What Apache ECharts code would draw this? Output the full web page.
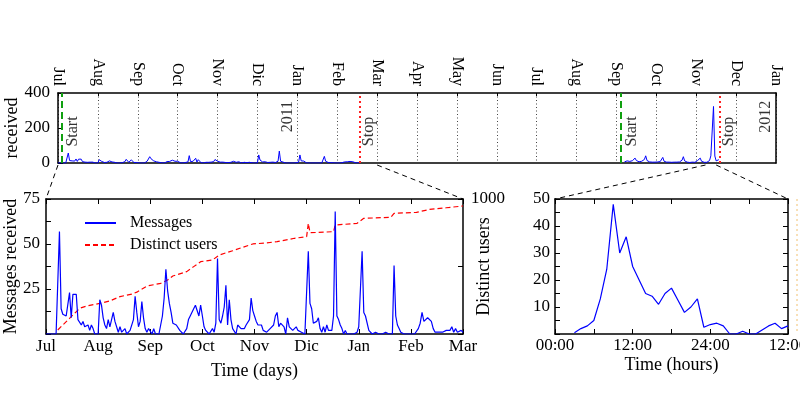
<!DOCTYPE html>
<html><head><meta charset="utf-8">
<script src="https://cdn.jsdelivr.net/npm/echarts@6/dist/echarts.min.js"></script>
<style>html,body{margin:0;padding:0;background:#fff}#c{width:800px;height:395px}</style>
</head><body><div id="c"></div>
<script>
// ---------------- DATA ----------------
const topMonthLabels = ['Jul','Aug','Sep','Oct','Nov','Dic','Jan','Feb','Mar','Apr','May','Jun','Jul','Aug','Sep','Oct','Nov','Dec','Jan'];
const dayMonthLabels = ['Jul','Aug','Sep','Oct','Nov','Dic','Jan','Feb','Mar'];
const hourTickLabels = {0:'00:00', 12:'12:00', 24:'24:00', 36:'12:00'};
const topYTicks = [0, 200, 400];

// messages per day, first campaign (starting 2010-07-01)
const msgJul2010 = [0,0,0,0,0,0,0,1,57,14,11,12,10,11,23,9,22,23,22,8,7,5,7,4,3,5,2,5,3,0,0];
const msgAug2010 = [0,19,16,9,5,3,8,4,5,12,7,6,1,4,1,0,3,0,0,2,3,8,21,12,4,7,18,9,3,1,3];
const msgSep2010 = [2,0,3,0,1,0,5,10,20,36,24,17,12,6,7,5,4,2,1,0,0,3,8,10,9,14,16,17,10,16];
const msgOct2010 = [10,4,2,1,0,0,3,1,6,42,8,6,10,15,27,5,19,8,3,4,0,5,4,3,4,3,5,4,8,20,13];
const msgNov2010 = [10,7,5,4,5,2,3,1,2,3,4,5,10,12,4,6,7,4,0,9,4,3,2,3,4,2,1,1,0,0];
const msgDec2010 = [1,46,17,14,6,5,7,9,3,1,4,1,5,2,3,2,10,68,10,8,5,3,0,2,0,1,0,0,0,1,1];
const msgJan2011 = [4,5,46,12,10,11,2,1,0,0,1,0,0,0,0,0,1,0,0,0,0,38,10,5,3,1,2,0,1,0,0];
const msgFeb2011 = [0,0,0,1,3,6,12,7,7,9,10,7,3,1,2,1,2,1,0,2,1,2,4,1,3,1,2,2];
const msgMar2011 = [1];

// messages per day, second campaign (starting 2011-09-07)
const msgSep2011 = [6,10,12,11,9,10,13,18,28,14,9,7,8,10,12,20,41,14,8,6,7,5,6,5];
const msgOct2011 = [5,6,5,8,14,32,10,6,5,4,5,6,4,3,5,4,5,4,6,8,16,36,12,7,5,4,3,4,5,3,4];
const msgNov2011 = [8,14,20,28,10,6,4,5,4,6,14,41,30,323,40,12,8,19];

// cumulative distinct users
const usersDates  = ['2010-07-08','2010-07-15','2010-07-21','2010-07-25','2010-08-02','2010-08-08','2010-08-14','2010-08-21','2010-08-24','2010-08-30','2010-09-07','2010-09-11','2010-09-14','2010-09-22','2010-09-26','2010-09-30','2010-10-07','2010-10-11','2010-10-19','2010-10-31','2010-11-08','2010-11-14','2010-11-24','2010-12-01','2010-12-02','2010-12-03','2010-12-17','2010-12-18','2010-12-31','2011-01-04','2011-01-20','2011-01-22','2011-02-04','2011-02-11','2011-02-20','2011-03-01'];
const usersValues = [30,116,190,207,227,245,277,296,310,355,375,400,430,462,499,536,548,585,617,667,675,684,709,721,820,750,758,807,820,857,864,894,901,923,935,948];

// messages per hour, peak day (hours 3..36 from 00:00)
const hourlyFirstHour = 3;
const hourlyMessages = [0.5,2,3,5,13,24,48,30,36,25,20,15,14,11,15,17,12.5,8,10,13,2.5,3.5,4,3,0,0,1,0,0,1.5,3,4,2,3];

const events = [
  {date:'2010-07-04', type:'Start'},
  {date:'2011-02-17', type:'Stop'},
  {date:'2011-09-04', type:'Start'},
  {date:'2011-11-19', type:'Stop'}
];
const yearMarks = [{date:'2011-01-01', label:'2011'}, {date:'2012-01-01', label:'2012'}];
const hourWindowOnTop = ['2011-11-08', '2011-11-16'];

// ---------------- HELPERS ----------------
function parseD(s){ const p = s.split('-').map(Number); return new Date(Date.UTC(p[0], p[1]-1, p[2])); }
function monthPos(dt){
  const y = dt.getUTCFullYear(), m = dt.getUTCMonth(), d = dt.getUTCDate();
  const dim = new Date(Date.UTC(y, m+1, 0)).getUTCDate();
  return (y-2010)*12 + (m-6) + (d-1)/dim;
}
function daily(startStr, values){
  const s = parseD(startStr);
  return values.map((v,i) => [monthPos(new Date(s.getTime() + i*86400000)), v]);
}
const period1 = daily('2010-07-01', [].concat(msgJul2010,msgAug2010,msgSep2010,msgOct2010,msgNov2010,msgDec2010,msgJan2011,msgFeb2011,msgMar2011));
const period2 = daily('2011-09-07', [].concat(msgSep2011,msgOct2011,msgNov2011));
const stop1 = monthPos(parseD(events[1].date));
const period1Top = period1.filter(p => p[0] <= stop1);
const users = usersDates.map((d,i) => [monthPos(parseD(d)), usersValues[i]]);
const hourly = hourlyMessages.map((v,i) => [hourlyFirstHour + i, v]);

// ---------------- LAYOUT / STYLE ----------------
const FONT = 'Liberation Serif';
const G_TOP = {left:58, top:93, width:718, height:70};
const G_DAYS = {left:46, top:199, width:417, height:135};
const G_HOURS = {left:555, top:199, width:233, height:135};
const AX = {lineStyle:{color:'#000', width:1.5}};
const lbl = (extra) => Object.assign({color:'#000', fontFamily:FONT, fontSize:17}, extra||{});
const nameStyle = {color:'#000', fontFamily:FONT, fontSize:18};
const inTick = (len) => ({show:true, inside:true, length:len, lineStyle:{color:'#000', width:1}});
const plain = (gridIndex, position, min, max, interval, tick) => ({
  gridIndex, position, type:'value', min, max, interval,
  axisLine:Object.assign({onZero:false, show:true}, AX),
  axisTick: tick ? inTick(tick) : {show:false},
  axisLabel:{show:false}, splitLine:{show:false}
});

const chart = echarts.init(document.getElementById('c'), null, {renderer:'canvas'});

const eventStyle = {
  Start: {color:'#10a010', width:2, type:[7,4]},
  Stop:  {color:'#ff2020', width:2, type:[2,3]}
};
const eventLabelShift = {Start:11, Stop:9};   // px to the right of the line

const option = {
  animation:false,
  backgroundColor:'#fff',
  textStyle:{fontFamily:FONT},
  grid:[
    Object.assign({outerBoundsMode:'none', containLabel:false}, G_TOP),
    Object.assign({outerBoundsMode:'none', containLabel:false}, G_DAYS),
    Object.assign({outerBoundsMode:'none', containLabel:false}, G_HOURS)
  ],
  legend:{
    data:['Messages','Distinct users'], orient:'vertical', left:84, top:215, padding:0,
    itemWidth:31, itemHeight:14, itemGap:6, selectedMode:false,
    itemStyle:{color:'rgba(0,0,0,0)', borderWidth:0, opacity:0},
    textStyle:{color:'#000', fontFamily:FONT, fontSize:16, padding:[0,0,0,9]}
  },
  xAxis:[
    { gridIndex:0, position:'top', type:'value', min:0, max:topMonthLabels.length-1, interval:1,
      axisLine:Object.assign({onZero:false}, AX), axisTick:inTick(3),
      axisLabel:lbl({fontSize:16, rotate:90, margin:7, showMinLabel:true, showMaxLabel:true,
        formatter:v => topMonthLabels[Math.round(v)] || ''}),
      splitLine:{show:true, lineStyle:{color:'#444', width:1, type:[1,2.5]}} },
    plain(0, 'bottom', 0, topMonthLabels.length-1, 1, 0),
    { gridIndex:1, position:'bottom', type:'value', min:0, max:dayMonthLabels.length-1, interval:1,
      axisLine:Object.assign({onZero:false}, AX), axisTick:inTick(5),
      axisLabel:lbl({margin:4, showMinLabel:true, showMaxLabel:true, formatter:v => dayMonthLabels[Math.round(v)] || ''}),
      splitLine:{show:false},
      name:'Time (days)', nameLocation:'middle', nameGap:28, nameMoveOverlap:false, nameTextStyle:nameStyle },
    plain(1, 'top', 0, dayMonthLabels.length-1, 1, 5),
    { gridIndex:2, position:'bottom', type:'value', min:0, max:36, interval:6,
      axisLine:Object.assign({onZero:false}, AX), axisTick:inTick(5),
      axisLabel:lbl({margin:3, showMinLabel:true, showMaxLabel:true, formatter:v => hourTickLabels[v] || ''}),
      splitLine:{show:false},
      name:'Time (hours)', nameLocation:'middle', nameGap:22, nameMoveOverlap:false, nameTextStyle:nameStyle },
    plain(2, 'top', 0, 36, 6, 5)
  ],
  yAxis:[
    { gridIndex:0, position:'left', type:'value', min:topYTicks[0], max:topYTicks[2], interval:topYTicks[1]-topYTicks[0],
      axisLine:Object.assign({onZero:false}, AX), axisTick:inTick(5),
      axisLabel:lbl({margin:8}), splitLine:{show:false},
      name:'Messages\nreceived', nameLocation:'middle', nameGap:34, nameMoveOverlap:false,
      nameTextStyle:Object.assign({lineHeight:23}, nameStyle) },
    plain(0, 'right', 0, 400, 200, 0),
    { gridIndex:1, position:'left', type:'value', min:0, max:75, interval:12.5,
      axisLine:Object.assign({onZero:false}, AX), axisTick:inTick(5),
      axisLabel:lbl({margin:6, formatter:v => (v > 0 && v % 25 === 0) ? String(v) : ''}),
      splitLine:{show:false},
      name:'Messages received', nameLocation:'middle', nameGap:26, nameMoveOverlap:false, nameTextStyle:nameStyle },
    { gridIndex:1, position:'right', type:'value', min:0, max:1000, interval:500,
      axisLine:Object.assign({onZero:false}, AX), axisTick:inTick(5),
      axisLabel:lbl({margin:8, formatter:v => v === 1000 ? '1000' : ''}),
      splitLine:{show:false},
      name:'Distinct users', nameLocation:'middle', nameGap:12, nameMoveOverlap:false, nameTextStyle:nameStyle },
    { gridIndex:2, position:'left', type:'value', min:0, max:50, interval:5,
      axisLine:Object.assign({onZero:false}, AX), axisTick:inTick(5),
      axisLabel:lbl({margin:5, formatter:v => (v > 0 && v % 10 === 0) ? String(v) : ''}),
      splitLine:{show:false} },
    plain(2, 'right', 0, 50, 5, 5)
  ],
  series:[
    { name:'top1', type:'line', xAxisIndex:0, yAxisIndex:0, data:period1Top, showSymbol:false, symbol:'none',
      lineStyle:{color:'#0000ff', width:1}, z:3,
      markLine:{ silent:true, symbol:'none', label:{show:false},
        data: events.map(e => ({xAxis: monthPos(parseD(e.date)), lineStyle: eventStyle[e.type]})) } },
    { name:'top2', type:'line', xAxisIndex:0, yAxisIndex:0, data:period2, showSymbol:false, symbol:'none',
      lineStyle:{color:'#0000ff', width:1}, z:3 },
    { name:'topLabels', type:'scatter', xAxisIndex:0, yAxisIndex:0, symbolSize:0, silent:true, z:4,
      // label offsets are in the rotated frame: [along text, across text]
      data: events.map(e => ({name:e.type, value:[monthPos(parseD(e.date)), 180],
                label:{offset:[0, eventLabelShift[e.type]]}}))
        .concat(yearMarks.map(y => ({name:y.label, value:[monthPos(parseD(y.date)), 265], label:{offset:[0, -10]}}))),
      label:{show:true, position:'inside', rotate:90, formatter:'{b}', color:'#000', fontFamily:FONT, fontSize:16} },
    { name:'Distinct users', type:'line', xAxisIndex:2, yAxisIndex:3, data:users, showSymbol:false, symbol:'none',
      lineStyle:{color:'#ff0000', width:1.2, type:[5,3]}, itemStyle:{color:'#ff0000'}, z:2 },
    { name:'Messages', type:'line', xAxisIndex:2, yAxisIndex:2, data:period1, showSymbol:false, symbol:'none',
      lineStyle:{color:'#0000ff', width:1.2}, itemStyle:{color:'#0000ff'}, z:3 },
    { name:'hourly', type:'line', xAxisIndex:4, yAxisIndex:4, data:hourly, showSymbol:false, symbol:'none',
      lineStyle:{color:'#0000ff', width:1.2}, z:3 }
  ]
};
chart.setOption(option);

// connectors between the overview and the two zoomed panels
function px(xi, yi, x, y){ return chart.convertToPixel({xAxisIndex:xi, yAxisIndex:yi}, [x, y]); }
const w0 = monthPos(parseD(hourWindowOnTop[0])), w1 = monthPos(parseD(hourWindowOnTop[1]));
const pairs = [
  [px(0,0,0,0), px(2,2,0,75)],
  [px(0,0,dayMonthLabels.length-1,0), px(2,2,dayMonthLabels.length-1,75)],
  [px(0,0,w0,0), px(4,4,0,50)],
  [px(0,0,w1,0), px(4,4,36,50)]
];
const dash = {stroke:'#000', lineWidth:1, lineDash:[5,4]};
chart.setOption({graphic:pairs.map(p => ({type:'line', silent:true, z:1,
  shape:{x1:p[0][0], y1:p[0][1]+2, x2:p[1][0], y2:p[1][1]}, style:dash}))
  .concat([{type:'line', silent:true, shape:{x1:797, y1:G_HOURS.top, x2:797, y2:G_HOURS.top+G_HOURS.height},
    style:{stroke:'#f0c070', lineWidth:1, lineDash:[2,3]}}])});
</script></body></html>
